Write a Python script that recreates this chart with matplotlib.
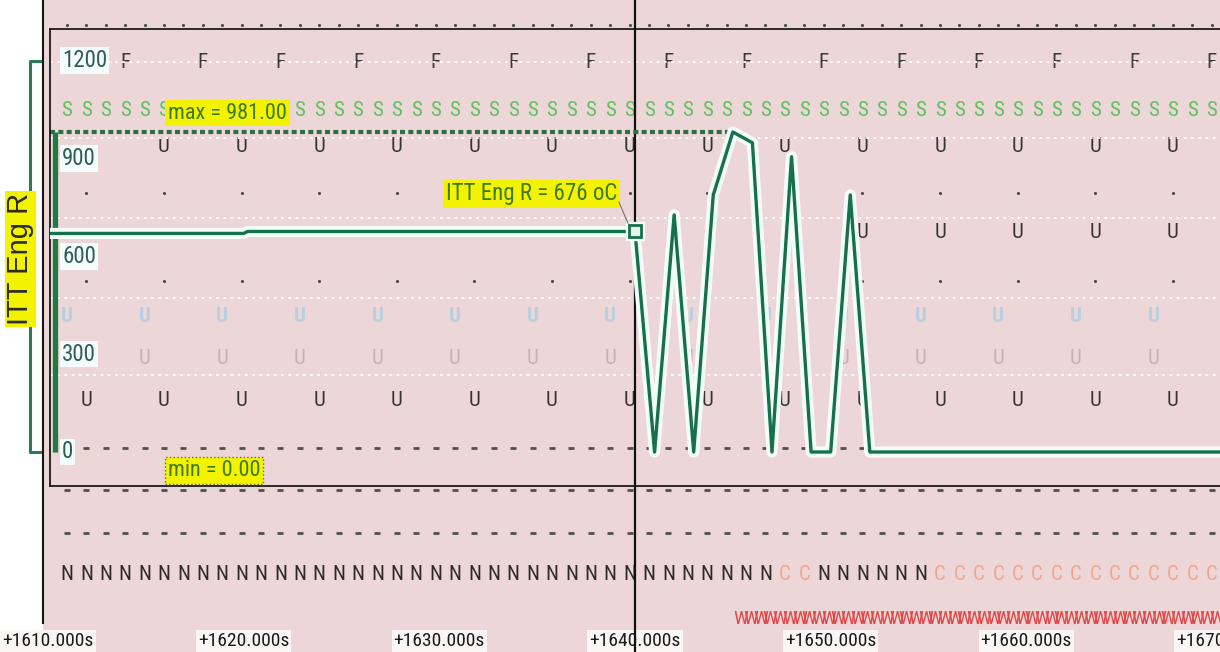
import numpy as np
import matplotlib
matplotlib.use("Agg")
import matplotlib.pyplot as plt

plt.rcParams['font.family'] = ['Roboto Condensed', 'DejaVu Sans']
plt.rcParams['font.stretch'] = 'condensed'

# ITT Eng R trace (seconds, degC)
itt_t = [1607, 1620, 1620.2, 1640, 1641, 1642, 1643, 1644, 1645, 1646,
         1647, 1648, 1649, 1650, 1651, 1652, 1670]
itt_v = [670, 670, 676, 676, 0, 727, 0, 788, 981, 948,
         0, 905, 0, 0, 788, 0, 0]
cursor_t = 1640
cursor_v = 676

x_ticks = [1610, 1620, 1630, 1640, 1650, 1660, 1670]
x_labels = ['+1610.000s', '+1620.000s', '+1630.000s', '+1640.000s',
            '+1650.000s', '+1660.000s', '+1670.000s']
y_ticks = [0, 300, 600, 900, 1200]

# discrete event tracks, one code per sample
sample_t0 = 1610.97
sample_dt = 0.9915
nav_codes = "NNNNNNNNNNNNNNNNNNNNNNNNNNNNNNNNNNNNNCCNNNNNNCCCCCCCCCCCCCCC"
f_idx = list(range(3, 60, 4))
u_idx = list(range(5, 58, 4))
u_mid_idx = [41, 45, 49, 53, 57]
u_low_idx = list(range(1, 58, 4))
dot_idx = list(range(1, 58, 4))
faint_idx = list(range(0, 57, 4))
w_first = 34.75
w_count = 50

ts = sample_t0 + sample_dt * np.arange(len(nav_codes))

W, H = 1220, 652
PINK = '#edd6d7'
TRACE = '#17704c'
YELLOW = '#f3f300'
LABEL_GREEN = '#3f7a22'


def tx(px):
    # screen column -> seconds
    return 1610 + (px - 48) / 19.567


fig = plt.figure(figsize=(W / 100, H / 100), dpi=100)
fig.patch.set_facecolor(PINK)

# background axes: x in seconds, y in screen rows
ax = fig.add_axes([0, 0, 1, 1])
ax.set_xlim(tx(0), tx(W))
ax.set_ylim(H, 0)
ax.set_facecolor(PINK)
for s in ax.spines.values():
    s.set_visible(False)
ax.set_xticks([])
ax.set_yticks([])

ax.axvspan(tx(0), tx(43), color='white', lw=0)
ax.plot([tx(43), tx(43)], [0, 623], color='#151515', lw=1.5)

# row separators
for gy in [62, 138, 218, 298, 375]:
    ax.plot([tx(50), tx(W)], [gy, gy], color='white', lw=1.3,
            ls=(0, (1.5, 2.5)), zorder=4)

ax.plot(ts, np.full(len(ts), 25), '.', ms=2.5, color='#4a4a4a')
for k in f_idx:
    ax.text(ts[k], 62, 'F', ha='center', va='center', fontsize=15, color='#3a3a3a')
for k in range(len(ts)):
    ax.text(ts[k], 110, 'S', ha='center', va='center', fontsize=15, color='#5cc25c')
for k in u_idx:
    ax.text(ts[k], 146, 'U', ha='center', va='center', fontsize=15, color='#333333')
for k in u_mid_idx:
    ax.text(ts[k], 232, 'U', ha='center', va='center', fontsize=15, color='#333333')
ax.plot(ts[dot_idx], np.full(len(dot_idx), 193), '.', ms=2.5, color='#4a4a4a')
ax.plot(ts[dot_idx], np.full(len(dot_idx), 281), '.', ms=2.5, color='#4a4a4a')
for k in faint_idx:
    ax.text(ts[k], 316, 'U', ha='center', va='center', fontsize=15,
            color='#b6d0de', fontweight='bold')
    ax.text(ts[k], 358, 'U', ha='center', va='center', fontsize=15, color='#c9afb4')
for k in u_low_idx:
    ax.text(ts[k], 401, 'U', ha='center', va='center', fontsize=15, color='#333333')
for ry in [448, 490, 533]:
    ax.plot(ts, np.full(len(ts), ry), '_', ms=5, mew=2, color='#505050')
for k, code in enumerate(nav_codes):
    ax.text(ts[k], 575, code, ha='center', va='center', fontsize=15,
            color='#2a2a2a' if code == 'N' else '#f2a48c')
for j in range(w_count):
    ax.text(sample_t0 + sample_dt * (w_first + 0.5 * j), 619, 'W', ha='center',
            va='center', fontsize=14, color='#e04848')

for t, lab in zip(x_ticks, x_labels):
    ax.text(t, 641, lab, ha='center', va='center', fontsize=14, color='#1a1a1a',
            bbox=dict(boxstyle='square,pad=0.1', fc='#fbf6f6', ec='none'))

ax.axvline(cursor_t, color='#111111', lw=1.6, zorder=5)

# value axes for the ITT trace
Y0, PXV = 452, 320 / 981
ax2 = fig.add_axes([50 / W, 1 - 486 / H, 1 - 50 / W, (486 - 29) / H])
ax2.set_xlim(tx(50), tx(W))
ax2.set_ylim((Y0 - 486) / PXV, (Y0 - 29) / PXV)
ax2.patch.set_alpha(0)
ax2.set_xticks([])
ax2.set_yticks([])
ax2.spines['right'].set_visible(False)
for side in ['top', 'left', 'bottom']:
    ax2.spines[side].set_color('#1a1a1a')
    ax2.spines[side].set_linewidth(1.3)

vmax, vmin = max(itt_v), min(itt_v)
t_max = itt_t[itt_v.index(vmax)]
ax2.plot([tx(50), W], [vmin, vmin], color='#2b6e48', lw=3, ls=(0, (1.2, 0.8)))
ax2.plot([tx(50), t_max], [vmax, vmax], color='#2b6e48', lw=3, ls=(0, (1.2, 0.8)))
ax2.set_xlim(tx(50), tx(W))

yt = ax2.get_yaxis_transform()
ax2.plot([0.0039, 0.0039], [vmin, vmax], color='#1f7a45', lw=3.8,
         transform=yt, solid_capstyle='butt')
ax2.plot([-0.0085, -0.0171, -0.0171, -0.0085], [1200, 1200, 0, 0],
         color='#2a7a55', lw=2.2, transform=yt, clip_on=False)
ax2.text(-0.0255, (Y0 - 259) / PXV, 'ITT Eng R', rotation=90, ha='center',
         va='center', fontsize=21, color='#2a2a2a', family='Liberation Sans',
         fontstretch='normal', transform=yt,
         bbox=dict(boxstyle='square,pad=0.05', fc=YELLOW, ec='none'))

for v in y_ticks:
    ax2.text(0.0103, v, str(v), ha='left', va='center', fontsize=16.5,
             color='#2e5e56', transform=yt, zorder=3,
             bbox=dict(boxstyle='square,pad=0.08', fc='#f6fcfb', ec='none'))

ax2.plot(itt_t, itt_v, color='#f2fff9', lw=8, solid_joinstyle='round',
         solid_capstyle='round', zorder=5)
ax2.plot(itt_t, itt_v, color=TRACE, lw=2.4, zorder=6)
ax2.plot([cursor_t], [cursor_v], 's', ms=13, color='#f2fff9', zorder=7)
ax2.plot([cursor_t], [cursor_v], 's', ms=9, mfc='#e6f3ec', mec=TRACE, mew=2, zorder=8)

ax2.text(tx(168), vmax + 58, 'max = %.2f' % vmax, ha='left', va='center',
         fontsize=16, color=LABEL_GREEN, zorder=9,
         bbox=dict(boxstyle='square,pad=0.12', fc=YELLOW, ec='none'))
ax2.text(tx(168), vmin - 57, 'min = %.2f' % vmin, ha='left', va='center',
         fontsize=16, color=LABEL_GREEN, zorder=9,
         bbox=dict(boxstyle='square,pad=0.12', fc=YELLOW, ec='#6a6a3a', ls=':'))
ax2.text(tx(617), cursor_v + 115, 'ITT Eng R = %d oC' % cursor_v, ha='right',
         va='center', fontsize=16.5, color=LABEL_GREEN, zorder=9,
         bbox=dict(boxstyle='square,pad=0.12', fc=YELLOW, ec='none'))
ax2.plot([tx(619), tx(628)], [cursor_v + 90, cursor_v + 25], color='#777777',
         lw=0.8, zorder=9)

fig.savefig('out.png', dpi=100, facecolor=PINK)
